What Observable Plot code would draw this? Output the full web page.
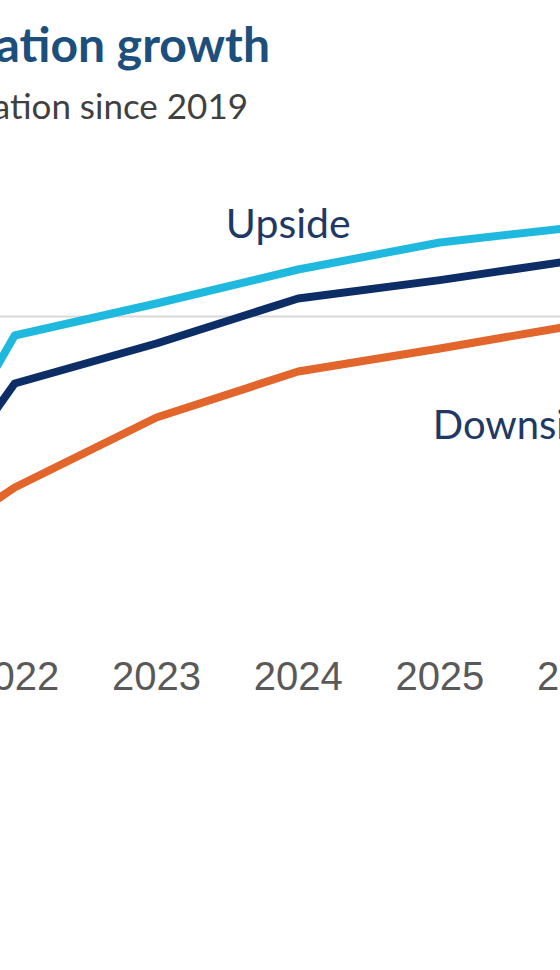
<!DOCTYPE html>
<html>
<head>
<meta charset="utf-8">
<script src="https://cdn.jsdelivr.net/npm/d3@7"></script>
<script src="https://cdn.jsdelivr.net/npm/@observablehq/plot@0.6"></script>
<style>
  html, body { margin: 0; padding: 0; background: #fff; }
  #frame { position: relative; width: 560px; height: 970px; overflow: hidden; background: #fff; }
  .title { position: absolute; right: 290px; top: 20px; white-space: nowrap; line-height: 1;
    font-family: Lato, "Open Sans", sans-serif; font-weight: 700; font-size: 48px; color: #1d4f7c; }
  .subtitle { position: absolute; right: 312px; top: 88px; white-space: nowrap; line-height: 1;
    font-family: Lato, "Open Sans", sans-serif; font-size: 35px; color: #404040; }
  #chart { position: absolute; left: -411px; top: 150px; width: 1559px; }
  #chart svg { max-width: none; }
</style>
</head>
<body>
<div id="frame">
  <div class="title">Population growth</div>
  <div class="subtitle">Change in population since 2019</div>
  <div id="chart"></div>
</div>
<script>
(function() {
  "use strict";

  // % change in population since 2019
  var years = [2021, 2022, 2023, 2024, 2025, 2026];
  var upside = [-6.65, -0.475, 0.325, 1.175, 1.85, 2.25];
  var central = [-6.65, -1.675, -0.675, 0.45, 0.91, 1.43];
  var downside = [-6.65, -4.275, -2.525, -1.375, -0.8, -0.19];
  var xTicks = [2019, 2020, 2021, 2022, 2023, 2024, 2025, 2026, 2027, 2028, 2029, 2030];

  var seriesNames = ["Upside", "Central", "Downside"];
  var seriesValues = [upside, central, downside];
  var seriesColors = ["#1fb8de", "#0d2d66", "#e2652b"];

  // scenario labels sit beside their lines
  var labelNames = ["Upside", "Downside"];
  var labelYears = [2023.93, 2024.95];
  var labelValues = [2.3, -2.75];
  var labelAnchors = ["middle", "start"];

  var rows = [];
  seriesNames.forEach(function(name, s) {
    years.forEach(function(year, i) {
      rows.push({ year: year, value: seriesValues[s][i], series: name });
    });
  });

  var labels = labelNames.map(function(name, i) {
    return { name: name, year: labelYears[i], value: labelValues[i], anchor: labelAnchors[i] };
  });

  var plot = Plot.plot({
    width: 1559,
    height: 560,
    marginTop: 0,
    marginRight: 0,
    marginBottom: 70,
    marginLeft: 0,
    style: { background: "transparent", overflow: "visible", maxWidth: "none" },
    x: { type: "linear", domain: [2019, 2030] },
    y: { domain: [-8.1, 4.15], axis: null },
    color: { domain: seriesNames, range: seriesColors },
    marks: [
      Plot.ruleY([0], { stroke: "#d9d9d9", strokeWidth: 2 }),
      Plot.line(rows, {
        x: "year",
        y: "value",
        z: "series",
        stroke: "series",
        strokeWidth: 8,
        strokeLinejoin: "round",
        strokeLinecap: "butt"
      }),
      Plot.text(labels.filter(function(d) { return d.anchor === "middle"; }), {
        x: "year", y: "value", text: "name", textAnchor: "middle",
        fontFamily: "Lato, sans-serif", fontSize: 41, fill: "#1f3864"
      }),
      Plot.text(labels.filter(function(d) { return d.anchor === "start"; }), {
        x: "year", y: "value", text: "name", textAnchor: "start",
        fontFamily: "Lato, sans-serif", fontSize: 40, fill: "#1f3864"
      }),
      Plot.axisX({
        ticks: xTicks,
        tickFormat: function(d) { return String(d); },
        tickSize: 0,
        tickPadding: 21,
        fontSize: 40,
        fontFamily: "'Liberation Sans', Arial, sans-serif",
        fill: "#595959",
        label: null
      })
    ]
  });

  document.getElementById("chart").appendChild(plot);
})();
</script>
</body>
</html>
